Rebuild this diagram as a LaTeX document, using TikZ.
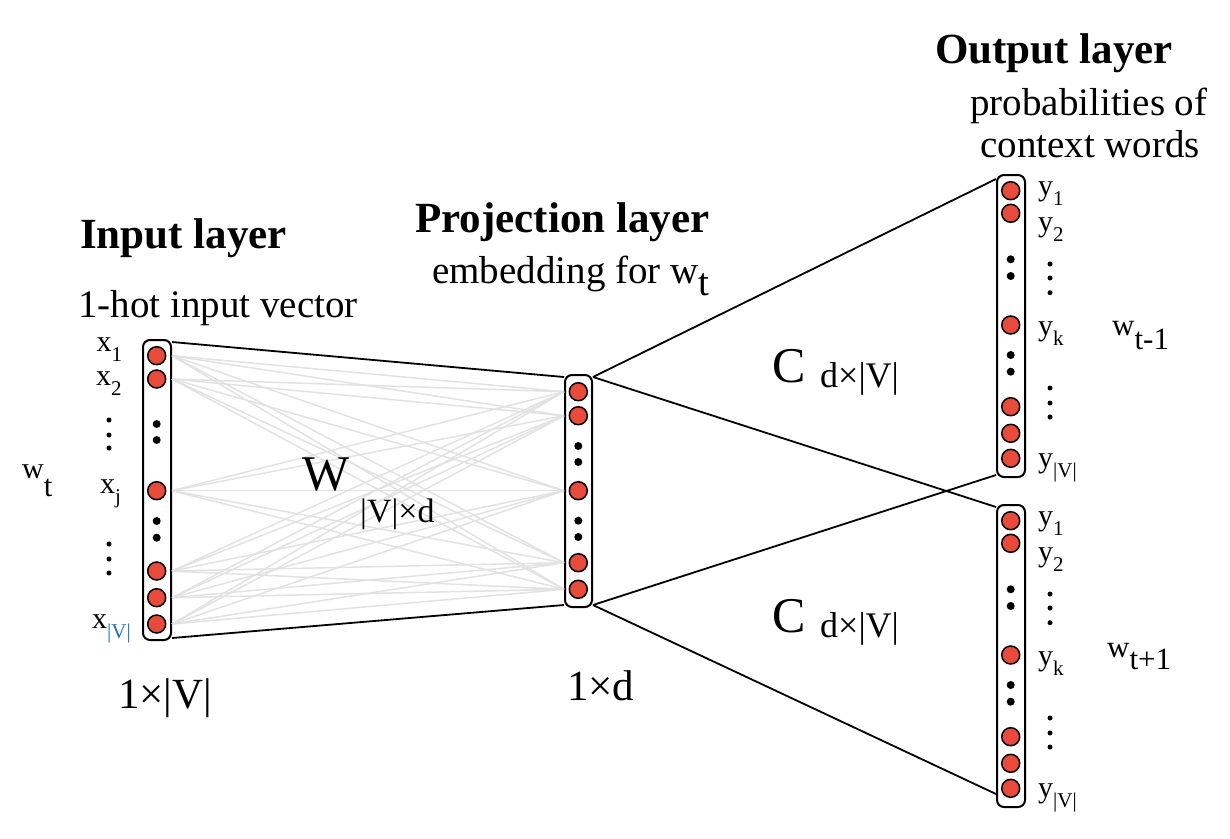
\documentclass[tikz,border=0pt]{standalone}
\usepackage{fontspec}
\setmainfont{Liberation Serif}
\usetikzlibrary{calc}
\definecolor{unitred}{RGB}{232,74,59}
\definecolor{wgrey}{RGB}{226,226,226}
\definecolor{idxblue}{RGB}{40,110,180}
\newcommand\fs[1]{\fontsize{#1}{#1}\selectfont}
% label with a lowered index, e.g. x_1
\newcommand\idx[2]{#1\raisebox{-10pt}{\fs{21}#2}}
\begin{document}
\begin{tikzpicture}[x=1pt,y=-1pt,
  col/.style={draw,line width=2pt,rounded corners=7pt,fill=white,inner sep=0pt},
  unit/.style={circle,draw,line width=1.5pt,fill=unitred,minimum size=18pt,inner sep=0pt},
  bigdot/.style={circle,fill=black,minimum size=8pt,inner sep=0pt},
  smalldot/.style={circle,fill=black,minimum size=5pt,inner sep=0pt},
  link/.style={line width=1.8pt,black},
  weight/.style={line width=1.5pt,wgrey},
  txt/.style={inner sep=0pt,anchor=base west},
  lab/.style={inner sep=0pt,anchor=base west,font=\fs{30}}]
\useasboundingbox (0,0) rectangle (1230,838);

% layer columns
\node[col,minimum width=28pt,minimum height=300pt] (inp) at (157,490) {};
\node[col,minimum width=27pt,minimum height=232pt] (proj) at (578.5,491) {};
\node[col,minimum width=28pt,minimum height=302pt] (outa) at (1011,326) {};
\node[col,minimum width=28pt,minimum height=302pt] (outb) at (1011,656) {};

% input units
\foreach \n/\y in {1/355.7,2/379,3/490.7,4/571,5/597.7,6/624}
  \node[unit] (i\n) at (156.7,\y) {};
\foreach \n/\y in {1/424,2/440,3/521,4/537.7}
  \node[bigdot] (id\n) at (156.7,\y) {};

% projection units
\foreach \n/\y in {1/391.7,2/415.7,3/490.7,4/562.7,5/589.3}
  \node[unit] (p\n) at (578.3,\y) {};
\foreach \n/\y in {1/446,2/462,3/520.7,4/537}
  \node[bigdot] (pd\n) at (578.3,\y) {};

% output units (two context positions)
\foreach \c/\o in {a/0,b/330}{
  \foreach \n/\y in {1/190.7,2/213.3,3/325,4/406.7,5/433.3,6/458.3}
    \node[unit] (o\c\n) at (1010.7,\y+\o) {};
  \foreach \n/\y in {1/259.3,2/276,3/355,4/371.7}
    \node[bigdot] (od\c\n) at (1010.7,\y+\o) {};
  \foreach \n/\y in {1/264,2/278,3/292.7,4/388,5/403,6/417}
    \node[smalldot] (ol\c\n) at (1050,\y+\o) {};
  \node[lab] (y1\c) at (1038,195+\o) {\idx{y}{1}};
  \node[lab] (y2\c) at (1038,231.5+\o) {\idx{y}{2}};
  \node[lab] (yk\c) at (1038,335+\o) {\idx{y}{k}};
  \node[lab] (yv\c) at (1038,467+\o) {\idx{y}{|V|}};
}

% input label ellipses
\foreach \n/\y in {1/420,2/435,3/448,4/544,5/559,6/573}
  \node[smalldot] (il\n) at (109,\y) {};

% full weight matrix W
\foreach \a in {1,...,6}
  \foreach \b in {1,...,5}
    \draw[weight] (inp.east |- i\a) -- (proj.west |- p\b);

% outline connectors
\draw[link] ($(inp.north east)+(0,3)$) -- ($(proj.north west)+(0,3)$);
\draw[link] ($(inp.south east)+(0,-3)$) -- ($(proj.south west)+(0,-3)$);
\draw[link] ($(proj.north east)+(0,3)$) -- ($(outa.north west)+(0,5)$);
\draw[link] ($(proj.north east)+(0,3)$) -- ($(outb.north west)+(0,3)$);
\draw[link] ($(proj.south east)+(0,-3)$) -- ($(outa.south west)+(0,-3)$);
\draw[link] ($(proj.south east)+(0,-3)$) -- ($(outb.south west)+(0,-14)$);

% input labels
\node[lab] (x1) at (96.5,351.7) {\idx{x}{1}};
\node[lab] (x2) at (96,385) {\idx{x}{2}};
\node[lab] (xj) at (100,493) {\idx{x}{j}};
\node[lab] (xv) at (92,628) {x\raisebox{-10pt}{\fs{21}\color{idxblue}|V|}};

% headings
\node[txt,font=\fs{43}\bfseries] (hin) at (80,248) {Input layer};
\node[txt,font=\fs{39}] (sin) at (78,317) {1-hot input vector};
\node[txt,font=\fs{43}\bfseries] (hpr) at (415,232) {Projection layer};
\node[txt,font=\fs{39}] (spr) at (432,283) {embedding for w\raisebox{-12pt}{t}};
\node[txt,font=\fs{43}\bfseries] (hout) at (935,63) {Output layer};
\node[txt,font=\fs{39}] (sout1) at (970,115) {probabilities of};
\node[txt,font=\fs{39}] (sout2) at (980,157) {context words};

% matrices
\node[txt,font=\fs{50}] (wm) at (302,490) {W};
\node[txt,font=\fs{34}] (wdim) at (360,522) {|V|×d};
\node[txt,font=\fs{50}] (ca) at (772,382) {C};
\node[txt,font=\fs{36}] (cadim) at (820,387) {d×|V|};
\node[txt,font=\fs{50}] (cb) at (772,632) {C};
\node[txt,font=\fs{36}] (cbdim) at (820,637) {d×|V|};

% dimensions
\node[txt,font=\fs{43}] (din) at (118,708) {1×|V|};
\node[txt,font=\fs{43}] (dpr) at (567,700) {1×d};

% words
\node[txt,font=\fs{30}] (wt) at (22,478) {w\raisebox{-18pt}{\fs{31}t}};
\node[txt,font=\fs{31}] (wtm) at (1112,335) {w\raisebox{-14pt}{t-1}};
\node[txt,font=\fs{31}] (wtp) at (1107,657) {w\raisebox{-12pt}{t+1}};
\end{tikzpicture}
\end{document}
